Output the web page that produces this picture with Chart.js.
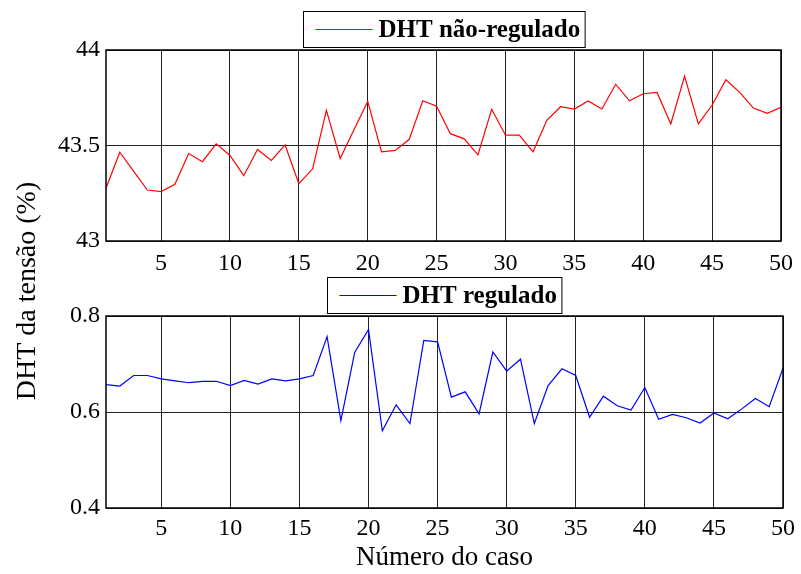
<!DOCTYPE html>
<html>
<head>
<meta charset="utf-8">
<script src="https://cdn.jsdelivr.net/npm/chart.js@4"></script>
<style>
  body{margin:0;background:#fff;}
  #wrap{position:relative;width:801px;height:574px;}
  canvas{position:absolute;left:0;top:0;}
</style>
</head>
<body>
<div id="wrap">
  <canvas id="topChart" width="801" height="574"></canvas>
  <canvas id="bottomChart" width="801" height="574"></canvas>
</div>
<script>
// data
const caseNumbers=[1,2,3,4,5,6,7,8,9,10,11,12,13,14,15,16,17,18,19,20,21,22,23,24,25,
                   26,27,28,29,30,31,32,33,34,35,36,37,38,39,40,41,42,43,44,45,46,47,48,49,50];
const dhtNaoRegulado=[43.276,43.465,43.366,43.267,43.259,43.297,43.458,43.415,43.509,43.448,
                      43.342,43.479,43.422,43.503,43.300,43.378,43.684,43.432,43.583,43.731,
                      43.467,43.474,43.531,43.734,43.706,43.562,43.535,43.451,43.690,43.554,
                      43.554,43.467,43.632,43.703,43.691,43.733,43.691,43.821,43.734,43.771,
                      43.778,43.613,43.863,43.613,43.712,43.844,43.778,43.696,43.668,43.700];
const dhtRegulado=[0.657,0.654,0.676,0.676,0.669,0.665,0.661,0.664,0.664,0.655,
                   0.666,0.658,0.669,0.665,0.669,0.676,0.757,0.582,0.724,0.772,
                   0.561,0.615,0.576,0.749,0.746,0.631,0.642,0.596,0.725,0.685,
                   0.710,0.576,0.655,0.690,0.676,0.589,0.633,0.613,0.604,0.651,
                   0.585,0.595,0.588,0.577,0.598,0.586,0.606,0.628,0.611,0.691];
const xTicks=[5,10,15,20,25,30,35,40,45,50];
const topYTicks=[43,43.5,44];
const bottomYTicks=[0.4,0.6,0.8];
const legendTop='DHT não-regulado';
const legendBottom='DHT regulado';
const yTitle='DHT da tensão (%)';
const xTitle='Número do caso';

const serif="'Liberation Serif','Times New Roman',serif";

//frame round the plot area
const framePlugin={
  id:'frame',
  afterDraw(chart){
    const a=chart.chartArea, ctx=chart.ctx;
    ctx.save();
    ctx.strokeStyle='#000';
    ctx.lineWidth=1.5;
    ctx.strokeRect(a.left,a.top,a.right-a.left,a.bottom-a.top);
    ctx.restore();
  }
};

//legend box drawn over the top of the plot, matlab style
const boxLegend={
  id:'boxLegend',
  afterDraw(chart,args,opts){
    const a=chart.chartArea, ctx=chart.ctx;
    const ds=chart.data.datasets[0];
    ctx.save();
    ctx.font='bold 25px '+serif;
    const tw=ctx.measureText(ds.label).width;
    const w=75+tw+5, h=36;
    const x=Math.round((a.left+a.right)/2-w/2)+0.5;
    const y=a.top-opts.gap-h+0.5;
    ctx.fillStyle='#fff';
    ctx.fillRect(x,y,w,h);
    ctx.strokeStyle='#000';
    ctx.lineWidth=1;
    ctx.strokeRect(x,y,w,h);
    ctx.strokeStyle=ds.borderColor;
    ctx.beginPath();
    ctx.moveTo(x+12,y+h/2);
    ctx.lineTo(x+69,y+h/2);
    ctx.stroke();
    ctx.fillStyle='#000';
    ctx.textBaseline='middle';
    ctx.fillText(ds.label,x+75,y+h/2+1);
    ctx.restore();
  }
};

//shared y title, centred between both plots
const yTitlePlugin={
  id:'yTitle',
  afterDraw(chart,args,opts){
    if(!opts.text) return;
    const ctx=chart.ctx;
    ctx.save();
    ctx.translate(opts.x,opts.y);
    ctx.rotate(-Math.PI/2);
    ctx.font='28px '+serif;
    ctx.fillStyle='#000';
    ctx.textAlign='center';
    ctx.textBaseline='middle';
    ctx.fillText(opts.text,0,0);
    ctx.restore();
  }
};

function makeChart(id,label,values,color,yMin,yMax,yTicks,fmt,pad,xHeight,xTickPad,titleText,yTitleText){
  return new Chart(document.getElementById(id),{
    type:'line',
    data:{
      datasets:[{
        label:label,
        data:caseNumbers.map((c,i)=>({x:c,y:values[i]})),
        borderColor:color,
        borderWidth:1.2,
        pointRadius:0,
        tension:0,
        fill:false
      }]
    },
    options:{
      responsive:false,
      animation:false,
      layout:{padding:pad},
      plugins:{
        legend:{display:false},
        tooltip:{enabled:false},
        boxLegend:{gap:3},
        yTitle:{text:yTitleText,x:28,y:291}
      },
      scales:{
        x:{
          type:'linear',
          min:1,max:50,
          afterBuildTicks:s=>{s.ticks=xTicks.map(v=>({value:v}));},
          afterFit:s=>{s.height=xHeight;},
          grid:{color:'#222',lineWidth:1,drawTicks:false},
          border:{display:false},
          ticks:{padding:xTickPad,color:'#000',maxRotation:0,autoSkip:false,font:{family:serif,size:24}},
          title:{display:!!titleText,text:titleText,color:'#000',font:{family:serif,size:27},padding:{top:2,bottom:0}}
        },
        y:{
          min:yMin,max:yMax,
          afterBuildTicks:s=>{s.ticks=yTicks.map(v=>({value:v}));},
          afterFit:s=>{s.width=106;},
          grid:{color:'#222',lineWidth:1,drawTicks:false},
          border:{display:false},
          ticks:{padding:6,color:'#000',font:{family:serif,size:24},callback:fmt}
        }
      }
    },
    plugins:[framePlugin,boxLegend,yTitlePlugin]
  });
}

makeChart('topChart',legendTop,dhtNaoRegulado,'#ff0000',43,44,topYTicks,
  v=>String(v),{top:50,left:0,right:13,bottom:303},30,8,'','');
makeChart('bottomChart',legendBottom,dhtRegulado,'#0000ff',0.4,0.8,bottomYTicks,
  v=>v.toFixed(1),{top:316,left:0,right:13,bottom:0},66,6,xTitle,yTitle);
</script>
</body>
</html>
